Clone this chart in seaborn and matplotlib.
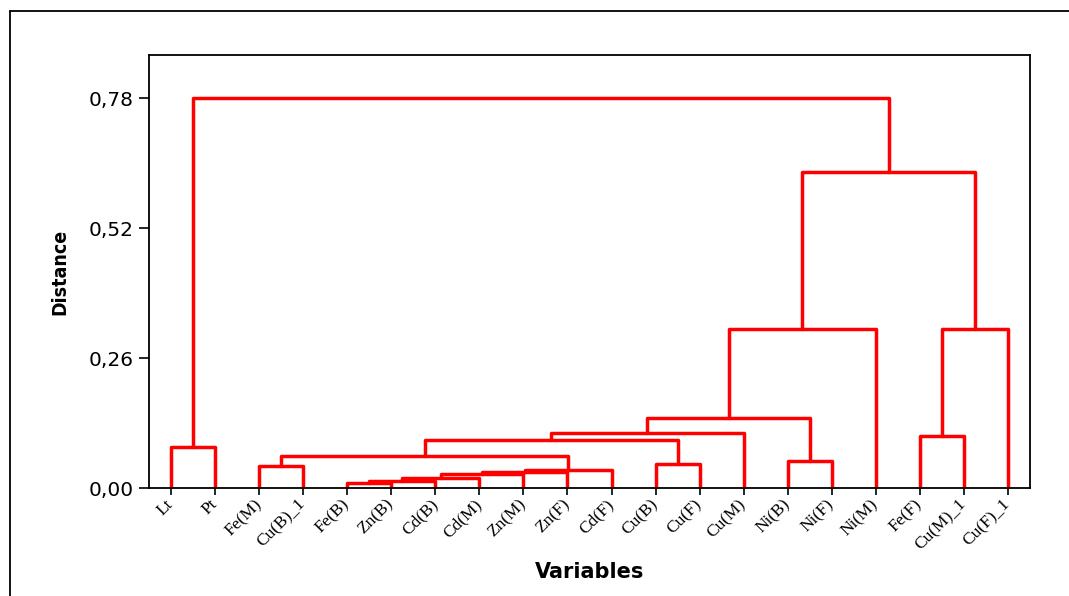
import numpy as np
import pandas as pd
import matplotlib
matplotlib.use("Agg")
import matplotlib.pyplot as plt
from matplotlib.lines import Line2D
import seaborn as sns

# leaf order as drawn
leaves = ["Lt", "Pt", "Fe(M)", "Cu(B)_1", "Fe(B)", "Zn(B)", "Cd(B)", "Cd(M)",
          "Zn(M)", "Zn(F)", "Cd(F)", "Cu(B)", "Cu(F)", "Cu(M)", "Ni(B)",
          "Ni(F)", "Ni(M)", "Fe(F)", "Cu(M)_1", "Cu(F)_1"]

# linkage: leaf i = 0..19, cluster k = 20 + merge index
link_left = [4, 20, 21, 22, 23, 24, 2, 11, 14, 26, 0, 29, 17, 31, 33, 34, 32, 35, 30]
link_right = [5, 6, 7, 8, 9, 10, 3, 12, 15, 25, 1, 27, 18, 13, 28, 16, 19, 36, 37]
link_height = [0.010, 0.015, 0.021, 0.028, 0.033, 0.036, 0.045, 0.048, 0.054,
               0.064, 0.082, 0.097, 0.104, 0.110, 0.141, 0.318, 0.318, 0.632, 0.780]

y_ticks = [0.00, 0.26, 0.52, 0.78]

# layout of the tree
n = len(leaves)
pos = {i: i + 1.0 for i in range(n)}
top = {i: 0.0 for i in range(n)}
rows = []
for k, (a, b, h) in enumerate(zip(link_left, link_right, link_height)):
    xs = [pos[a], pos[a], pos[b], pos[b]]
    ys = [top[a], h, h, top[b]]
    for j in range(4):
        rows.append({"link": k, "order": j, "x": xs[j], "y": ys[j]})
    pos[n + k] = (pos[a] + pos[b]) / 2
    top[n + k] = h
seg_df = pd.DataFrame(rows)

sns.set_theme(style="white")
plt.rcParams["font.family"] = ["DejaVu Sans"]
plt.rcParams["text.color"] = "black"
plt.rcParams["axes.labelcolor"] = "black"
plt.rcParams["xtick.color"] = "black"
plt.rcParams["ytick.color"] = "black"

fig = plt.figure(figsize=(10.69, 5.96), dpi=100)
ax = fig.add_axes([149 / 1069, 1 - 488 / 596, (1030 - 149) / 1069, (488 - 55) / 596])

sns.lineplot(data=seg_df, x="x", y="y", units="link", estimator=None, sort=False,
             color="#ff0000", linewidth=2.5, ax=ax, legend=False)

ax.set_xlim(0.5, n + 0.5)
ax.set_ylim(0, 0.866)
ax.set_xticks(range(1, n + 1))
ax.set_xticklabels(leaves, rotation=45, ha="right", va="center", rotation_mode="anchor",
                   family="Liberation Serif", fontsize=12.5)
ax.set_yticks(y_ticks)
ax.set_yticklabels([f"{v:.2f}".replace(".", ",") for v in y_ticks], fontsize=14.5)
ax.tick_params(axis="x", bottom=True, length=5, width=1.2, color="black", pad=5)
ax.tick_params(axis="y", left=True, length=7, width=1.2, color="black", pad=4)
for s in ax.spines.values():
    s.set_color("black")
    s.set_linewidth(1.3)

ax.set_xlabel("Variables", fontsize=15, fontweight="bold", labelpad=6)
ax.set_ylabel("Distance", fontsize=14, fontweight="bold", fontstretch="condensed",
              labelpad=14)

# outer frame of the exported graph window
fig.add_artist(Line2D([10 / 1069, 1.0], [1 - 11 / 596, 1 - 11 / 596],
                      transform=fig.transFigure, color="black", linewidth=1.3))
fig.add_artist(Line2D([10 / 1069, 10 / 1069], [0.0, 1 - 11 / 596],
                      transform=fig.transFigure, color="black", linewidth=1.3))

fig.savefig("out.png", dpi=100)
